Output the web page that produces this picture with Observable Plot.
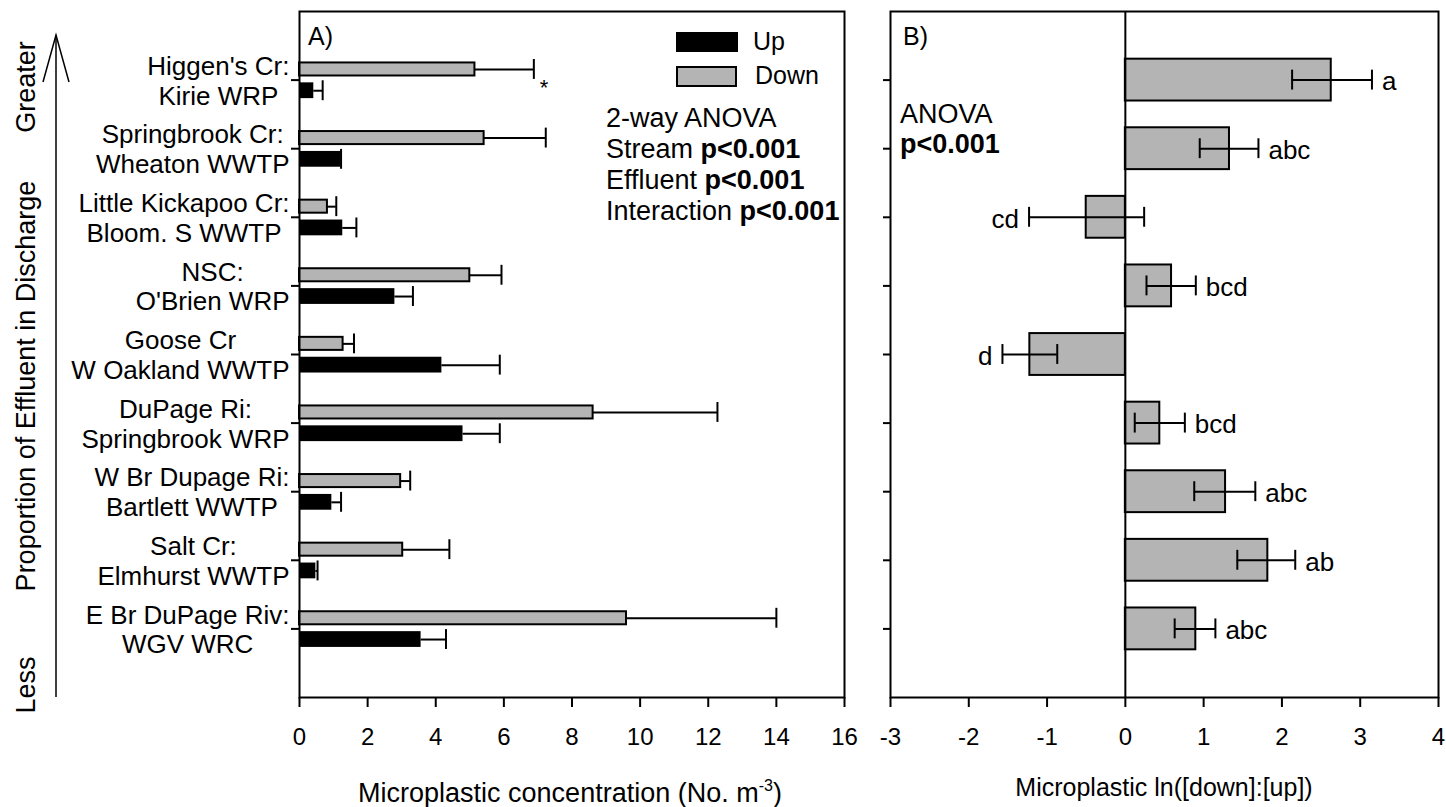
<!DOCTYPE html>
<html><head><meta charset="utf-8">
<script src="https://cdn.jsdelivr.net/npm/d3@7"></script>
<script src="https://cdn.jsdelivr.net/npm/@observablehq/plot@0.6"></script>
<style>
body{margin:0;background:#fff;}
#wrap{position:relative;width:1446px;height:807px;display:flex;overflow:hidden;}
svg text{font-family:"Liberation Sans", Arial, sans-serif;}
</style></head><body><div id="wrap"></div>
<script>
// ---- data ----
const sites = ["Higgen's Cr:\nKirie WRP", "Springbrook Cr:\nWheaton WWTP", "Little Kickapoo Cr:\nBloom. S WWTP", "NSC:\nO'Brien WRP", "Goose Cr\nW Oakland WWTP", "DuPage Ri:\nSpringbrook WRP", "W Br Dupage Ri:\nBartlett WWTP", "Salt Cr:\nElmhurst WWTP", "E Br DuPage Riv:\nWGV WRC"];
const downMean = [5.15, 5.42, 0.82, 5.0, 1.28, 8.62, 2.97, 3.03, 9.6];
const downUpper = [6.88, 7.23, 1.08, 5.93, 1.6, 12.27, 3.25, 4.4, 14.0];
const upMean = [0.42, 1.22, 1.27, 2.8, 4.18, 4.8, 0.95, 0.48, 3.57];
const upUpper = [0.68, 1.22, 1.67, 3.33, 5.88, 5.88, 1.22, 0.53, 4.3];
const ratio = [2.63, 1.33, -0.5, 0.59, -1.22, 0.44, 1.28, 1.82, 0.9];
const ratioLo = [2.13, 0.95, -1.23, 0.27, -1.57, 0.12, 0.88, 1.43, 0.63];
const ratioHi = [3.15, 1.70, 0.24, 0.90, -0.87, 0.76, 1.66, 2.17, 1.15];
const letters = ["a", "abc", "cd", "bcd", "d", "bcd", "abc", "ab", "abc"];
const xTicksA = [0, 2, 4, 6, 8, 10, 12, 14, 16];
const xTicksB = [-3, -2, -1, 0, 1, 2, 3, 4];
const seriesNames = ["Up", "Down"];

const FONT = '"Liberation Sans", Arial, sans-serif';
const GRAY = "#b4b4b4";
const rows = sites.map((s, i) => ({
  i, site: s, down: downMean[i], downU: downUpper[i], up: upMean[i], upU: upUpper[i],
  r: ratio[i], lo: ratioLo[i], hi: ratioHi[i], letter: letters[i]
}));

const canvas = document.createElement("canvas");
const ctx = canvas.getContext("2d");
ctx.font = '26px "Liberation Sans"';
const maxW = s => Math.max(...s.split("\n").map(l => ctx.measureText(l).width));

const H = 807, WA = 866, WB = 1446 - 866;
const yOpt = {type: "linear", domain: [9, -1]};
const style = {fontFamily: FONT, fontSize: "24px", color: "black", background: "white", overflow: "visible"};

// ---- Panel A ----
const labelMarks = rows.map(d => Plot.text([d], {
  x: 0, y: "i", text: "site", textAnchor: "middle", lineHeight: 1.15,
  fontSize: 26, dx: -(10 + maxW(d.site) / 2)
}));

const plotA = Plot.plot({
  width: WA, height: H, marginLeft: 299, marginRight: WA - 844, marginTop: 11, marginBottom: H - 697,
  x: {domain: [0, 16]}, y: yOpt, style,
  marks: [
    Plot.axisX(xTicksA, {tickSize: 10, tickPadding: 20, fontSize: 24, strokeWidth: 2, label: null, tickFormat: d => String(d)}),
    Plot.axisY(d3.range(9), {tickSize: 8, strokeWidth: 2, label: null, tickFormat: () => ""}),
    Plot.ruleY(rows, {y: d => d.i - 0.155, x1: "down", x2: "downU", strokeWidth: 2}),
    Plot.ruleX(rows, {x: "downU", y1: d => d.i - 0.3, y2: d => d.i - 0.01, strokeWidth: 2}),
    Plot.ruleY(rows, {y: d => d.i + 0.155, x1: "up", x2: "upU", strokeWidth: 2}),
    Plot.ruleX(rows, {x: "upU", y1: d => d.i + 0.01, y2: d => d.i + 0.3, strokeWidth: 2}),
    Plot.rect(rows, {x1: 0, x2: "down", y1: d => d.i - 0.25, y2: d => d.i - 0.06, fill: GRAY, stroke: "black", strokeWidth: 2}),
    Plot.rect(rows, {x1: 0, x2: "up", y1: d => d.i + 0.04, y2: d => d.i + 0.27, fill: "black"}),
    Plot.text([rows[0]], {x: "downU", y: d => d.i - 0.155, text: () => "*", textAnchor: "start", dx: 6, dy: 18, fontSize: 22}),
    ...labelMarks,
    Plot.frame({strokeWidth: 2})
  ]
});

// ---- Panel B ----
const pos = rows.filter(d => d.r >= 0), neg = rows.filter(d => d.r < 0);
const plotB = Plot.plot({
  width: WB, height: H, marginLeft: 890 - WA, marginRight: 8, marginTop: 11, marginBottom: H - 697,
  x: {domain: [-3, 4]}, y: yOpt, style,
  marks: [
    Plot.axisX(xTicksB, {tickSize: 10, tickPadding: 20, fontSize: 24, strokeWidth: 2, label: null, tickFormat: d => String(d)}),
    Plot.axisY(d3.range(9), {tickSize: 7, strokeWidth: 2, label: null, tickFormat: () => ""}),
    Plot.rect(rows, {x1: 0, x2: "r", y1: d => d.i - 0.305, y2: d => d.i + 0.305, fill: GRAY, stroke: "black", strokeWidth: 2}),
    Plot.ruleY(rows, {y: "i", x1: "lo", x2: "hi", strokeWidth: 2}),
    Plot.ruleX(rows, {x: "lo", y1: d => d.i - 0.145, y2: d => d.i + 0.145, strokeWidth: 2}),
    Plot.ruleX(rows, {x: "hi", y1: d => d.i - 0.145, y2: d => d.i + 0.145, strokeWidth: 2}),
    Plot.text(pos, {x: "hi", y: "i", text: "letter", textAnchor: "start", dx: 10, dy: 2, fontSize: 26}),
    Plot.text(neg, {x: "lo", y: "i", text: "letter", textAnchor: "end", dx: -10, dy: 2, fontSize: 26}),
    Plot.ruleX([0], {strokeWidth: 2}),
    Plot.frame({strokeWidth: 2})
  ]
});

const wrap = document.getElementById("wrap");
wrap.appendChild(plotA);
wrap.appendChild(plotB);

const addText = (sel, x, y, size, anchor = "start") =>
  sel.append("text").attr("x", x).attr("y", y).attr("font-size", size).attr("text-anchor", anchor);

// ---- decorations panel A ----
const sa = d3.select(plotA);
addText(sa, 308, 45, 25).text("A)");
// legend
sa.append("rect").attr("x", 676).attr("y", 32).attr("width", 62).attr("height", 20).attr("fill", "black");
sa.append("rect").attr("x", 677).attr("y", 67).attr("width", 59).attr("height", 19).attr("fill", GRAY).attr("stroke", "black").attr("stroke-width", 2);
addText(sa, 753, 50, 25).text(seriesNames[0]);
addText(sa, 755, 84, 25).text(seriesNames[1]);
// ANOVA annotation
const ann = [["2-way ANOVA", ""], ["Stream ", "p<0.001"], ["Effluent ", "p<0.001"], ["Interaction ", "p<0.001"]];
ann.forEach((a, k) => {
  const t = addText(sa, 606, 127 + k * 31, 27);
  t.append("tspan").text(a[0]);
  if (a[1]) t.append("tspan").attr("font-weight", "bold").text(a[1]);
});
// arrow + vertical labels
sa.append("line").attr("x1", 56).attr("y1", 35).attr("x2", 56).attr("y2", 697).attr("stroke", "black").attr("stroke-width", 1.5);
sa.append("path").attr("d", "M43,82L56,35L69,82").attr("fill", "none").attr("stroke", "black").attr("stroke-width", 1.5);
[["Greater", 87], ["Proportion of Effluent in Discharge", 386], ["Less", 685]].forEach(([s, y]) => {
  sa.append("text").attr("transform", `translate(26,${y}) rotate(-90)`).attr("text-anchor", "middle")
    .attr("dominant-baseline", "central").attr("font-size", 27).text(s);
});
// axis title A
const ta = addText(sa, 570, 802, 27, "middle");
ta.append("tspan").text("Microplastic concentration (No. m");
ta.append("tspan").attr("dy", -11).attr("font-size", 16).text("-3");
ta.append("tspan").attr("dy", 11).text(")");

// ---- decorations panel B ----
const sb = d3.select(plotB);
addText(sb, 903 - WA, 45, 25).text("B)");
addText(sb, 900 - WA, 123, 27).text("ANOVA");
addText(sb, 900 - WA, 153, 27).attr("font-weight", "bold").text("p<0.001");
addText(sb, 1164 - WA, 796, 25, "middle").text("Microplastic ln([down]:[up])");
</script></body></html>
